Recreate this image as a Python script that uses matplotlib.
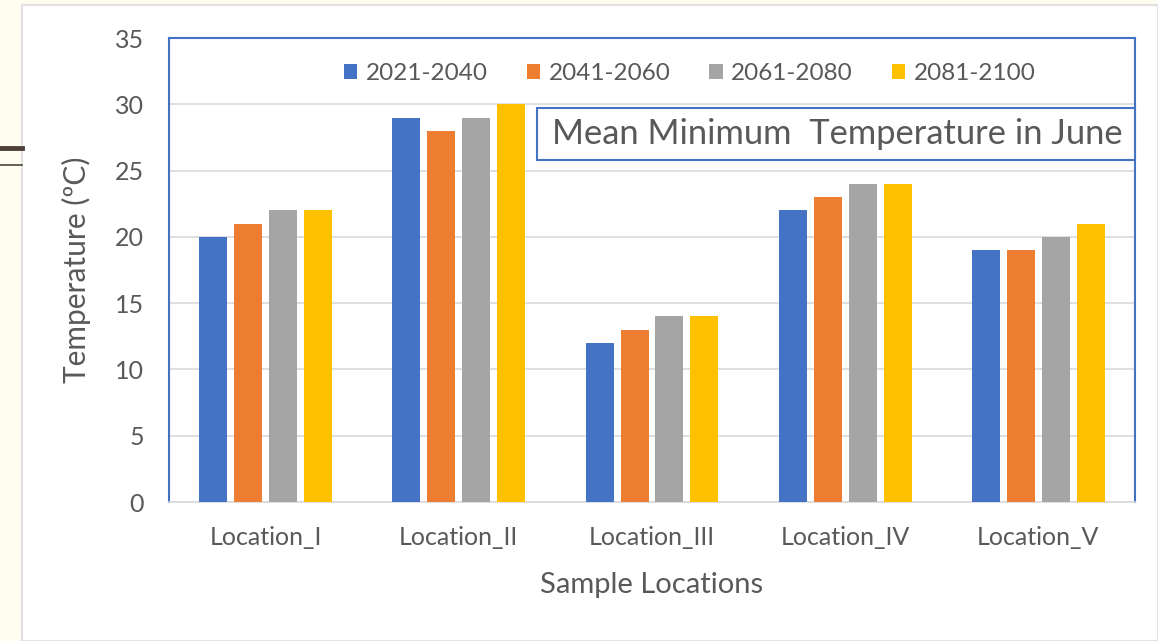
import numpy as np
import matplotlib
matplotlib.use("Agg")
import matplotlib.pyplot as plt
from matplotlib.patches import Rectangle
from matplotlib.lines import Line2D

# ── data ─────────────────────────────────────────────────────────────────────
locations = ["Location_I", "Location_II", "Location_III", "Location_IV", "Location_V"]
periods   = ["2021-2040", "2041-2060", "2061-2080", "2081-2100"]
t_2021    = [20, 29, 12, 22, 19]
t_2041    = [21, 28, 13, 23, 19]
t_2061    = [22, 29, 14, 24, 20]
t_2081    = [22, 30, 14, 24, 21]

colors = ["#4472C4", "#ED7D31", "#A5A5A5", "#FFC000"]
series = [t_2021, t_2041, t_2061, t_2081]

plt.rcParams["font.family"] = ["Lato", "DejaVu Sans"]
W, H = 1158, 641
fig = plt.figure(figsize=(W / 100, H / 100), dpi=100, facecolor="#FFFDF0")

# slide panel + decoration
fig.patches.append(Rectangle((22 / W, 0), 1 - 22 / W, 1 - 5 / H, transform=fig.transFigure,
                             facecolor="white", edgecolor="#E2E2E2", linewidth=1.5, zorder=-5))
fig.add_artist(Line2D([0, 22 / W], [1 - 148 / H] * 2, color="#4E4038", linewidth=3.5))
fig.add_artist(Line2D([0, 22 / W], [1 - 165 / H] * 2, color="#4E4038", linewidth=1.2))

ax = fig.add_axes([169 / W, 1 - 502 / H, 966 / W, 464 / H])
ax.set_facecolor("white")

x = np.arange(len(locations))
step, width = 0.181, 0.145
for i, (vals, c, lab) in enumerate(zip(series, colors, periods)):
    ax.bar(x + (i - 1.5) * step, vals, width=width, color=c, label=lab, zorder=3)

ax.set_xlim(-0.5, len(locations) - 0.5)
ax.set_ylim(0, 35)
ax.set_yticks(range(0, 36, 5))
ax.set_xticks(x)
ax.set_xticklabels(locations)
ax.tick_params(axis="both", length=0, labelsize=18, labelcolor="#595959")
ax.tick_params(axis="x", pad=17)
ax.tick_params(axis="y", pad=18)
ax.grid(axis="y", color="#D9D9D9", linewidth=1.2, zorder=0)

for s in ["left", "top", "right"]:
    ax.spines[s].set_color("#4472C4")
    ax.spines[s].set_linewidth(1.5)
ax.spines["bottom"].set_color("#D9D9D9")
ax.spines["bottom"].set_linewidth(1.2)

ax.set_xlabel("Sample Locations", fontsize=21, color="#595959", labelpad=17)
ax.set_ylabel("Temperature (ºC)", fontsize=21.5, color="#595959", labelpad=17)

ax.legend(ncol=4, loc="upper center", bbox_to_anchor=(0.539, 0.993), frameon=False,
          fontsize=17.5, handlelength=0.55, handleheight=0.55, handletextpad=0.35,
          columnspacing=1.6, labelcolor="#595959")

# title box
fig.patches.append(Rectangle((537 / W, 1 - 160 / H), (1135 - 537) / W, 52 / H,
                             transform=fig.transFigure, facecolor="white",
                             edgecolor="#4472C4", linewidth=1.5, zorder=5))
fig.text(552 / W, 1 - 134 / H, "Mean Minimum  Temperature in June", fontsize=24.8,
         color="#595959", ha="left", va="center", zorder=6)

fig.savefig("out.png", dpi=100, facecolor=fig.get_facecolor())
